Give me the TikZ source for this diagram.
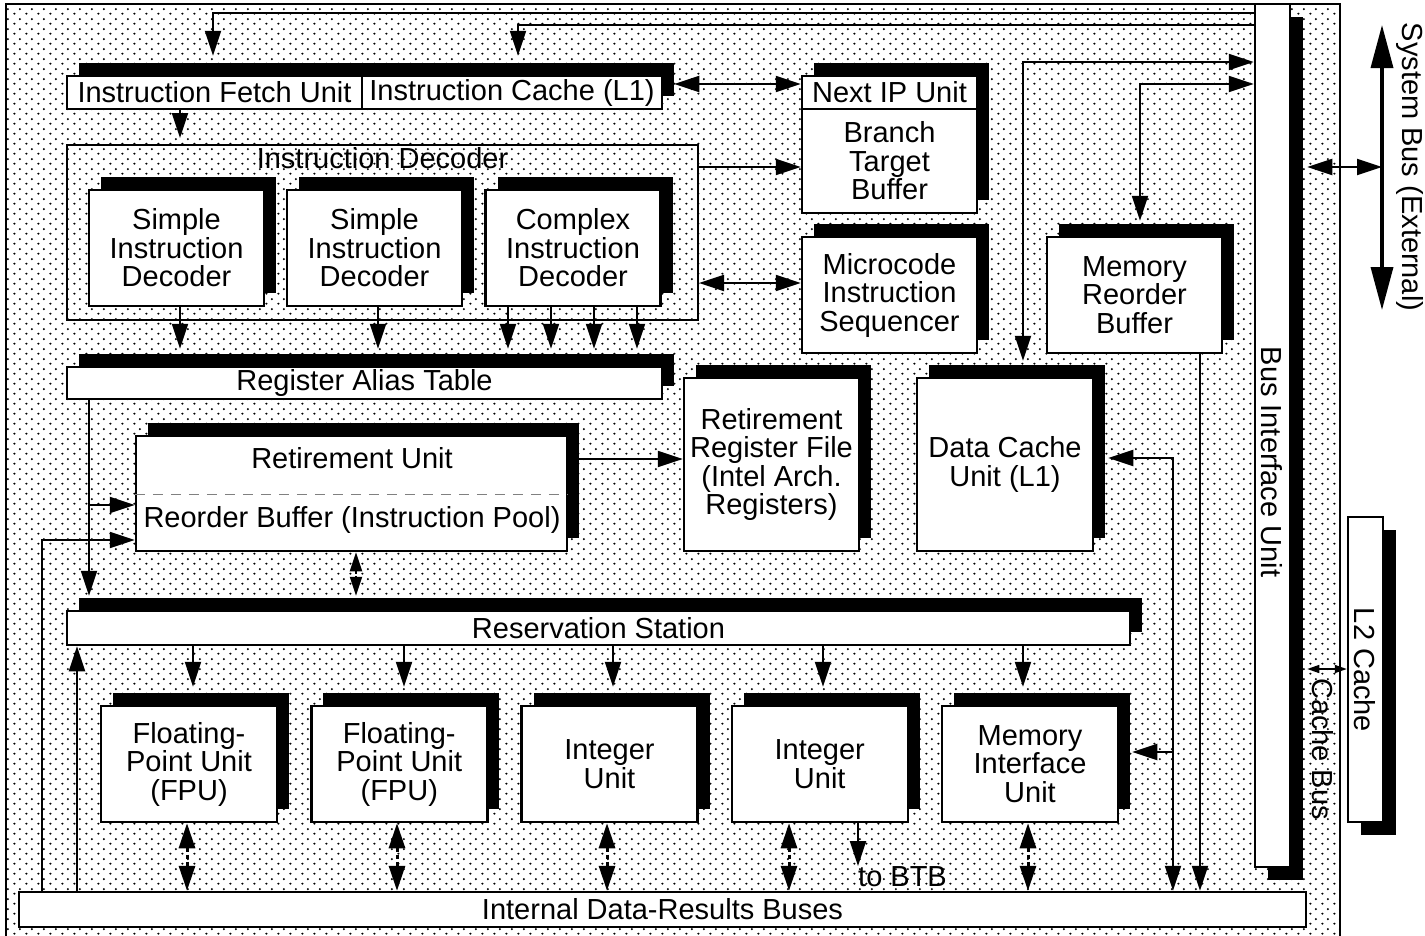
\documentclass[tikz,border=0pt]{standalone}
\usepackage{fontspec}
\setmainfont{Liberation Sans}
\usetikzlibrary{arrows.meta,shadows,patterns.meta,positioning}

\tikzdeclarepattern{
  name=bgdots,
  type=uncolored,
  bottom left={(0pt,0pt)},
  top right={(11.5pt,10pt)},
  tile size={(11.5pt,10pt)},
  code={
    \fill (2.5pt,2.5pt) circle (1.2pt);
    \fill (8.25pt,7.5pt) circle (1.2pt);
  }
}

\begin{document}
\begin{tikzpicture}[x=1pt,y=-1pt,
  font=\fontsize{29}{28.5}\selectfont,
  unitbox/.style={draw, fill=white, line width=2.5pt, align=center, inner sep=0pt,
    general shadow={fill=black, shadow xshift=12pt, shadow yshift=13pt}},
  busbox/.style={draw, fill=white, line width=2.5pt, inner sep=0pt,
    general shadow={fill=black, shadow xshift=13pt, shadow yshift=-13pt}},
  blk/.style={unitbox, minimum width=175pt, minimum height=116pt},
  arr/.style={-{Triangle[length=25pt,width=16pt]}, line width=2pt},
  dbl/.style={{Triangle[length=25pt,width=16pt]}-{Triangle[length=25pt,width=16pt]}, line width=2pt},
  node distance=210.25pt]
\useasboundingbox (0,0) rectangle (1425,935);
\draw[line width=2pt, pattern=bgdots] (6,4) rectangle (1340,945);

\node[unitbox, minimum width=295pt, minimum height=33pt] (ifu) at (214.5,92.5) {Instruction Fetch Unit};
\node[unitbox, minimum width=300pt, minimum height=33pt] (icache) at (512,92.5) {Instruction Cache (L1)};
\node[draw, line width=2pt, minimum width=631pt, minimum height=175pt, inner sep=0pt] (dec) at (382.5,232.5) {};
\node[anchor=north, inner sep=0pt] (declbl) at ([yshift=-3pt]dec.north) {Instruction Decoder};
\node[blk] (sdec1) at (176.5,248) {Simple\\Instruction\\Decoder};
\node[blk, right of=sdec1, node distance=198pt] (sdec2) {Simple\\Instruction\\Decoder};
\node[blk, right of=sdec2, node distance=198.5pt] (cdec) {Complex\\Instruction\\Decoder};
\node[blk, minimum height=104pt] (btb) at (889.5,161) {Branch\\Target\\Buffer};
\node[unitbox, minimum width=175pt, minimum height=33pt] (nip) at (889.5,92.5) {Next IP Unit};
\node[blk] (mis) at (889.5,295) {Microcode\\Instruction\\Sequencer};
\node[blk] (mrb) at (1134.5,295) {Memory\\Reorder\\Buffer};

\node[unitbox, minimum width=595pt, minimum height=32pt] (rat) at (364.5,383) {Register Alias Table};
\node[unitbox, minimum width=431pt, minimum height=115pt] (rob) at (351.5,493.5) {};
\node (retu) at (352,458) {Retirement Unit};
\node (robt) at (352,520) {Reorder Buffer (Instruction Pool)};
\draw[gray, line width=1pt, dash pattern=on 10pt off 8pt] (rob.west |- 0,494) -- (rob.east |- 0,494);
\node[blk, minimum height=173pt] (rrf) at (771.5,464.5) {Retirement\\Register File\\(Intel Arch.\\Registers)};
\node[blk, minimum width=176pt, minimum height=173pt] (dcu) at (1005,464.5) {Data Cache\\Unit (L1)};
\node[unitbox, minimum width=1063pt, minimum height=34pt] (rs) at (598.5,628) {Reservation Station};

\node[blk, minimum width=176pt] (fpu1) at (189,764) {Floating-\\Point Unit\\(FPU)};
\node[blk, minimum width=176pt, right of=fpu1] (fpu2) {Floating-\\Point Unit\\(FPU)};
\node[blk, minimum width=176pt, right of=fpu2] (int1) {Integer\\Unit};
\node[blk, minimum width=176pt, right of=int1] (int2) {Integer\\Unit};
\node[blk, minimum width=176pt, right of=int2] (miu) {Memory\\Interface\\Unit};
\node[draw, fill=white, line width=2.5pt, minimum width=1287pt, minimum height=35pt, inner sep=0pt] (buses) at (662.5,909.5) {Internal Data-Results Buses};
\node[anchor=north west, inner sep=0pt] (tobtb) at (858,866) {to BTB};

\node[busbox, minimum width=35pt, minimum height=863pt] (biu) at (1272.5,435.5) {};
\node[rotate=-90] (biut) at (1272,462) {Bus Interface Unit};
\node[busbox, minimum width=35pt, minimum height=305pt] (l2) at (1365.5,669.5) {};
\node[rotate=-90] (l2t) at (1365,670) {L2 Cache};
\node[rotate=-90] (cbus) at (1323,749) {Cache Bus};
\node[rotate=-90] (sbus) at (1410,167) {System Bus (External)};
\coordinate (systop) at (1382,25);
\coordinate (sysbot) at (1382,310);
\coordinate (jmiu) at (1173,752);

\draw[arr, shorten >=19pt] (biu.west |- 0,13) -| (ifu.north -| 213,0);
\draw[arr, shorten >=19pt] (biu.west |- 0,25) -| (icache.north -| 518,0);
\draw[arr, shorten >=6pt] (ifu.south -| 180,0) -- (dec.north -| 180,0);
\draw[dbl, shorten <=11pt] (icache.east |- 0,84) -- (nip.west |- 0,84);
\draw[arr] (dec.east |- 0,167) -- (btb.west |- 0,167);
\draw[dbl] (dec.east |- 0,283) -- (mis.west |- 0,283);
\draw[arr, shorten >=17pt] (sdec1.south -| 180,0) -- (rat.north -| 180,0);
\draw[arr, shorten >=17pt] (sdec2.south -| 378,0) -- (rat.north -| 378,0);
\foreach \x in {508,551,594,637}
  \draw[arr, shorten >=17pt] (cdec.south -| \x,0) -- (rat.north -| \x,0);
\draw[arr, shorten >=14pt] (rat.south -| 89,0) -- (rs.north -| 89,0);
\draw[arr] (rat.south -| 89,0) |- (rob.west |- 0,505);
\draw[arr] (buses.north -| 42,0) |- (rob.west |- 0,540);
\draw[arr] (buses.north -| 77,0) -- (rs.south -| 77,0);
\draw[{Triangle[length=19pt,width=12pt]}-{Triangle[length=19pt,width=12pt]}, line width=2pt, dash pattern=on 3pt off 2pt, shorten >=14pt] (rob.south -| 356,0) -- (rs.north -| 356,0);
\draw[arr] (rob.east |- 0,459) -- (rrf.west |- 0,459);
\foreach \u/\x in {fpu1/193,fpu2/404,int1/613,int2/823,miu/1023}
  \draw[arr, shorten >=18pt] (rs.south -| \x,0) -- (\u.north -| \x,0);
\foreach \u/\x in {fpu1/187,fpu2/397,int1/607,int2/789,miu/1028}
  \draw[dbl, line width=3pt, dash pattern=on 4pt off 3pt] (\u.south -| \x,0) -- (buses.north -| \x,0);
\draw[arr] (int2.south -| tobtb.north west) -- (tobtb.north west);
\draw[arr] (mrb.south -| 1200,0) -- (buses.north -| 1200,0);
\draw[dbl, shorten <=14pt] (dcu.east |- 0,458) -| (buses.north -| 1173,0);
\draw[arr, shorten >=13pt] (jmiu) -- (miu.east |- jmiu);
\draw[dbl, shorten <=16pt] (dcu.north -| 1023,0) |- (biu.west |- 0,62);
\draw[dbl, shorten <=15pt] (mrb.north -| 1140,0) |- (biu.west |- 0,84);
\draw[{Triangle[length=43pt,width=22pt]}-{Triangle[length=43pt,width=22pt]}, line width=3.5pt] (systop) -- (sysbot);
\draw[dbl, shorten <=16pt] (biu.east |- 0,167) -- (systop |- 0,167);
\draw[{Triangle[length=12pt,width=8pt]}-{Triangle[length=12pt,width=8pt]}, line width=1.5pt, shorten <=16pt] (biu.east |- 0,669) -- (l2.west |- 0,669);
\end{tikzpicture}
\end{document}
